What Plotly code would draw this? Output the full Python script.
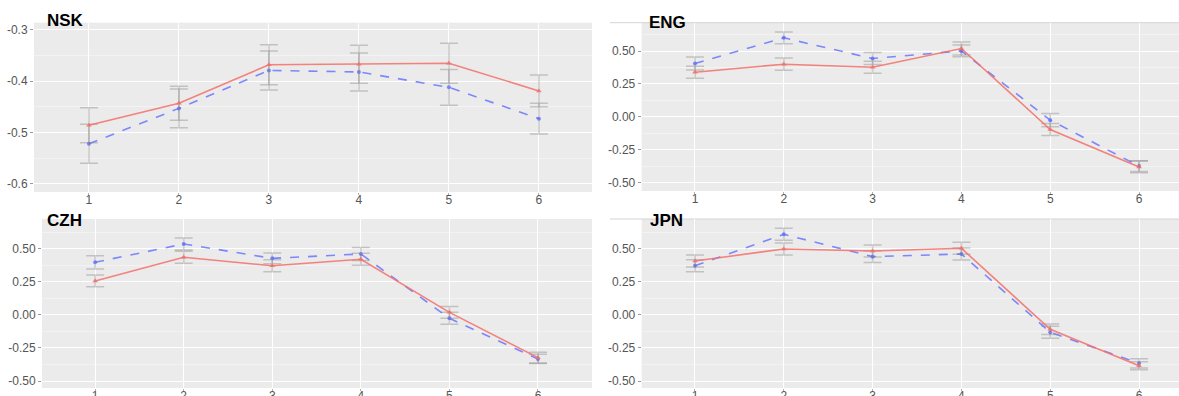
import plotly.graph_objects as go

W, H = 1179, 396

x_vals = [1, 2, 3, 4, 5, 6]
panels = ["NSK", "ENG", "CZH", "JPN"]

nsk_red = [-0.486, -0.443, -0.368, -0.367, -0.365, -0.419]
nsk_red_err = [0.034, 0.033, 0.039, 0.037, 0.039, 0.031]
nsk_blue = [-0.522, -0.453, -0.379, -0.382, -0.412, -0.473]
nsk_blue_err = [0.038, 0.038, 0.038, 0.037, 0.035, 0.030]

eng_red = [0.339, 0.400, 0.377, 0.519, -0.096, -0.380]
eng_red_err = [0.045, 0.047, 0.045, 0.050, 0.045, 0.045]
eng_blue = [0.405, 0.600, 0.443, 0.501, -0.025, -0.374]
eng_blue_err = [0.050, 0.045, 0.045, 0.045, 0.050, 0.040]

czh_red = [0.258, 0.437, 0.373, 0.422, 0.020, -0.323]
czh_red_err = [0.045, 0.045, 0.045, 0.045, 0.045, 0.040]
czh_blue = [0.399, 0.538, 0.429, 0.462, -0.025, -0.333]
czh_blue_err = [0.050, 0.045, 0.040, 0.050, 0.045, 0.035]

jpn_red = [0.409, 0.500, 0.485, 0.505, -0.108, -0.384]
jpn_red_err = [0.045, 0.045, 0.045, 0.045, 0.040, 0.030]
jpn_blue = [0.373, 0.611, 0.442, 0.462, -0.131, -0.366]
jpn_blue_err = [0.045, 0.045, 0.045, 0.045, 0.045, 0.035]

nsk_ticks = [-0.6, -0.5, -0.4, -0.3]
nsk_ticktext = ["-0.6", "-0.5", "-0.4", "-0.3"]
std_ticks = [-0.5, -0.25, 0.0, 0.25, 0.5]
std_ticktext = ["-0.50", "-0.25", "0.00", "0.25", "0.50"]
x_ticktext = ["1", "2", "3", "4", "5", "6"]

series = [
    (nsk_red, nsk_red_err, nsk_blue, nsk_blue_err),
    (eng_red, eng_red_err, eng_blue, eng_blue_err),
    (czh_red, czh_red_err, czh_blue, czh_blue_err),
    (jpn_red, jpn_red_err, jpn_blue, jpn_blue_err),
]

# panel pixel boxes: left, right, top, bottom
boxes = [(34, 592, 22.7, 192), (641.7, 1179, 22.7, 191),
         (42, 592, 219, 388), (641.7, 1179, 219, 388)]
xranges = [[0.39, 6.59], [0.40, 6.45], [0.40, 6.61], [0.40, 6.45]]
yranges = [[-0.616, -0.286], [-0.563, 0.715], [-0.553, 0.727], [-0.553, 0.727]]

RED = "rgba(244,110,104,0.85)"
BLUE = "rgba(96,110,255,0.8)"
ERR = "rgba(125,125,125,0.38)"

fig = go.Figure()
layout = dict(width=W, height=H, margin=dict(l=0, r=0, t=0, b=0, autoexpand=False),
              paper_bgcolor="white", plot_bgcolor="#EBEBEB", showlegend=False,
              font=dict(family="Liberation Sans, Arial, sans-serif"))
annotations = []
shapes = []

for i, (red, rerr, blue, berr) in enumerate(series):
    n = i + 1
    xa = "x" if n == 1 else f"x{n}"
    ya = "y" if n == 1 else f"y{n}"
    l, r, t, b = boxes[i]
    xdom = [l / W, r / W]
    ydom = [1 - b / H, 1 - t / H]
    if i == 0:
        tv, tt, minor_d = nsk_ticks, nsk_ticktext, 0.05
    else:
        tv, tt, minor_d = std_ticks, std_ticktext, 0.125
    xkey = "xaxis" if n == 1 else f"xaxis{n}"
    ykey = "yaxis" if n == 1 else f"yaxis{n}"
    layout[xkey] = dict(domain=xdom, anchor=ya, range=xranges[i], automargin=False,
                        tickvals=x_vals, ticktext=x_ticktext,
                        showgrid=True, gridcolor="white", gridwidth=1,
                        zeroline=False, showline=False,
                        ticks="outside", ticklen=2, tickcolor="#b0b0b0",
                        ticklabelstandoff=-5,
                        tickfont=dict(size=12, color="#555555"))
    layout[ykey] = dict(domain=ydom, anchor=xa, range=yranges[i], automargin=False,
                        tickvals=tv, ticktext=tt,
                        showgrid=True, gridcolor="white", gridwidth=1,
                        minor=dict(dtick=minor_d, tick0=0, showgrid=True,
                                   gridcolor="#F3F3F3", gridwidth=0.6, ticks=""),
                        zeroline=False, showline=False,
                        ticks="outside", ticklen=3, tickcolor="#9a9a9a",
                        tickfont=dict(size=12, color="#555555"))
    fig.add_trace(go.Scatter(
        x=x_vals, y=blue, xaxis=xa, yaxis=ya, mode="lines+markers",
        line=dict(color=BLUE, width=1.6, dash="dash"),
        marker=dict(color=BLUE, size=4, symbol="circle"),
        error_y=dict(type="data", array=berr, visible=True, color=ERR,
                     thickness=1.5, width=9)))
    fig.add_trace(go.Scatter(
        x=x_vals, y=red, xaxis=xa, yaxis=ya, mode="lines+markers",
        line=dict(color=RED, width=1.6),
        marker=dict(color=RED, size=5, symbol="triangle-up"),
        error_y=dict(type="data", array=rerr, visible=True, color=ERR,
                     thickness=1.5, width=9)))
    tx = [45, 647, 45, 648][i]
    ty = [21, 22, 220, 220][i]
    annotations.append(dict(text=f"<b>{panels[i]}</b>", xref="paper", yref="paper",
                            x=tx / W, y=1 - ty / H, xanchor="left", yanchor="middle",
                            showarrow=False,
                            font=dict(size=17, color="black",
                                      family="Liberation Sans, Arial, sans-serif")))

# faint screenshot border lines above right panels
for yy in [22.7, 219]:
    shapes.append(dict(type="line", xref="paper", yref="paper",
                       x0=610 / W, x1=1, y0=1 - yy / H, y1=1 - yy / H,
                       line=dict(color="#D4D4D4", width=1), layer="below"))

layout["annotations"] = annotations
layout["shapes"] = shapes
fig.update_layout(**layout)
fig.write_html("out.html")
